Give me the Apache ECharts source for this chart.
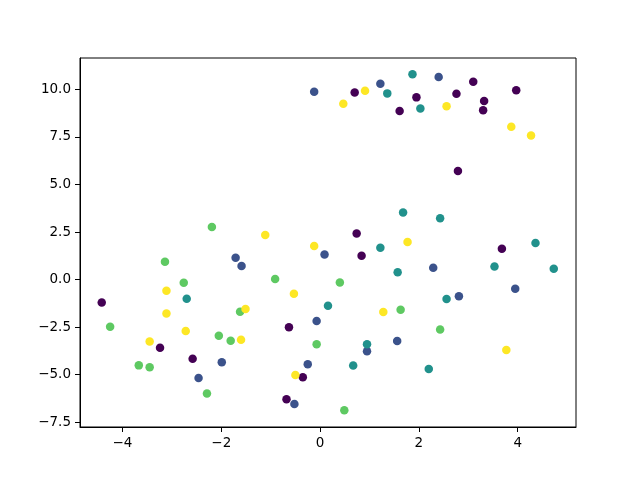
<!DOCTYPE html>
<head>
    <meta charset="utf-8">
    <title>scatter</title>
    <script src="https://cdn.jsdelivr.net/npm/echarts@6/dist/echarts.min.js"></script>
</head>
<body style="margin:0">
<div id="main" style="width:640px;height:480px"></div>
<script type="text/javascript">
    // points per class
    var class0 = [[0.70,9.84],[1.95,9.58],[1.61,8.86],[2.76,9.77],[3.10,10.40],[3.32,9.39],[3.30,8.90],[3.97,9.95],
        [2.79,5.71],[0.74,2.42],[-4.42,-1.20],[-0.63,-2.51],[-3.24,-3.58],[-2.58,-4.16],[-0.35,-5.13],[-0.68,-6.29],
        [0.84,1.25],[3.68,1.62]];
    var class1 = [[-0.12,9.88],[1.22,10.30],[2.40,10.65],[0.09,1.32],[-1.71,1.15],[-1.59,0.71],[-0.07,-2.18],[-1.99,-4.35],
        [-0.25,-4.45],[-2.46,-5.17],[-0.52,-6.54],[2.29,0.62],[3.95,-0.48],[2.81,-0.87],[0.95,-3.77],[1.56,-3.23]];
    var class2 = [[1.36,9.79],[1.87,10.79],[2.03,9.00],[1.68,3.53],[2.43,3.23],[4.36,1.92],[-2.70,-1.01],[0.16,-1.37],
        [1.22,1.67],[1.57,0.39],[3.53,0.69],[4.73,0.57],[2.56,-1.02],[0.95,-3.40],[0.67,-4.52],[2.20,-4.70]];
    var class3 = [[-2.19,2.76],[-3.14,0.94],[-2.76,-0.17],[-0.91,0.03],[-1.62,-1.69],[-4.25,-2.48],[-2.05,-2.95],[-1.81,-3.21],
        [-0.07,-3.40],[-3.67,-4.51],[-3.45,-4.61],[-2.29,-5.99],[0.40,-0.15],[1.63,-1.58],[2.43,-2.63],[0.49,-6.87]];
    var class4 = [[-1.11,2.34],[0.91,9.93],[0.47,9.25],[2.56,9.11],[3.87,8.04],[4.27,7.57],[1.77,1.97],[-0.12,1.76],
        [-3.11,-0.59],[-0.53,-0.74],[-1.51,-1.55],[-3.11,-1.78],[-2.72,-2.70],[-1.60,-3.16],[-3.45,-3.26],[-0.50,-5.01],
        [1.28,-1.71],[3.77,-3.70]];
    var groups = [class0, class1, class2, class3, class4];
    var colors = ['#440154', '#3b528b', '#21918c', '#5ec962', '#fde725'];

    var xTicks = [-4, -2, 0, 2, 4];
    var yTicks = [-7.5, -5, -2.5, 0, 2.5, 5, 7.5, 10];

    function fmt(v, d) {
        return v.toFixed(d).replace('-', '\u2212');
    }

    var myChart = echarts.init(document.getElementById('main'));

    var axisCommon = {
        axisLine: {show: true, onZero: false, lineStyle: {color: '#000', width: 1}},
        axisTick: {show: true, length: 5, lineStyle: {color: '#000', width: 1}},
        splitLine: {show: false},
        axisLabel: {color: '#000', fontFamily: 'DejaVu Sans', fontSize: 13.5, margin: 9}
    };

    var option = {
        animation: false,
        grid: {left: 80, right: 64, top: 58, bottom: 53, show: true, borderColor: '#000', borderWidth: 1},
        xAxis: echarts.util.merge({
            type: 'value',
            min: -4.86,
            max: 5.18,
            axisTick: {customValues: xTicks},
            axisLabel: {customValues: xTicks, formatter: function (v) { return fmt(v, 0); }}
        }, axisCommon),
        yAxis: echarts.util.merge({
            type: 'value',
            min: -7.75,
            max: 11.65,
            axisTick: {customValues: yTicks},
            axisLabel: {customValues: yTicks, formatter: function (v) { return fmt(v, 1); }}
        }, axisCommon),
        series: groups.map(function (pts, i) {
            return {
                type: 'scatter',
                data: pts,
                symbolSize: 8.5,
                itemStyle: {color: colors[i], opacity: 1},
                emphasis: {disabled: true}
            };
        })
    };
    myChart.setOption(option);
</script>
</body>
